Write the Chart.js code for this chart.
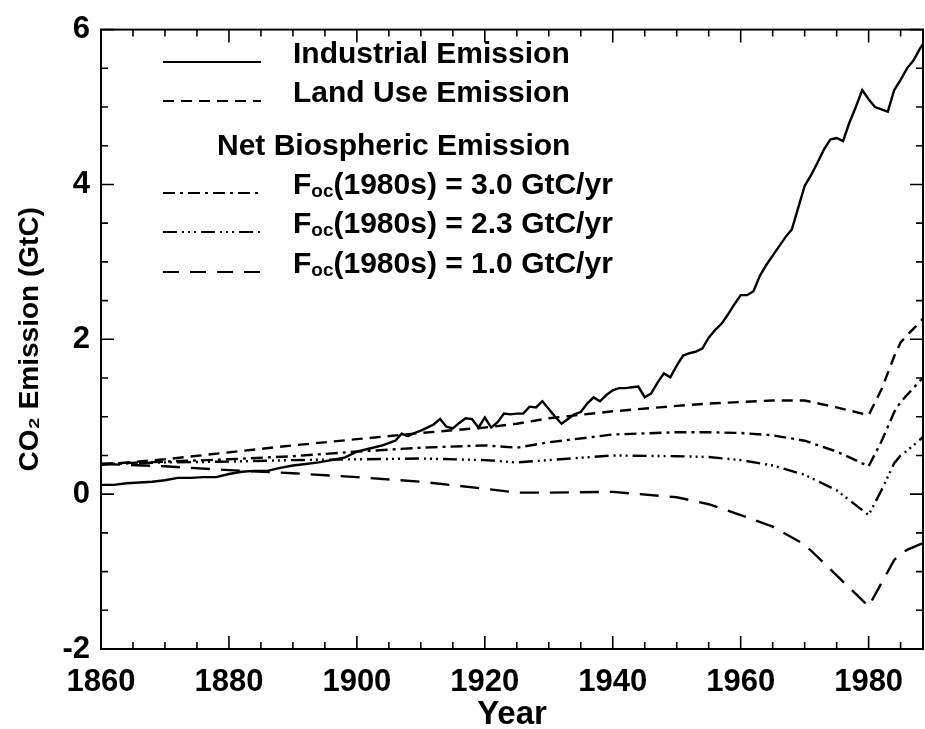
<!DOCTYPE html>
<html>
<head>
<meta charset="utf-8">
<script src="https://cdn.jsdelivr.net/npm/chart.js@4.4.1/dist/chart.umd.min.js"></script>
<style>
  html, body { margin: 0; padding: 0; background: #fff; }
</style>
</head>
<body>
<canvas id="co2" width="925" height="729"></canvas>
<script>
// industrial emission
const industrialYears = [1860, 1862, 1864, 1866, 1868, 1870, 1872, 1874, 1876, 1878,
  1880, 1882, 1884, 1886, 1888, 1890, 1892, 1894, 1896, 1898, 1900, 1902, 1904, 1906,
  1907, 1908, 1909, 1910, 1911, 1912, 1913, 1914, 1915, 1916, 1917, 1918, 1919, 1920,
  1921, 1922, 1923, 1924, 1925, 1926, 1927, 1928, 1929, 1930, 1931, 1932, 1933, 1934,
  1935, 1936, 1937, 1938, 1939, 1940, 1941, 1942, 1943, 1944, 1945, 1946, 1947, 1948,
  1949, 1950, 1951, 1952, 1953, 1954, 1955, 1956, 1957, 1958, 1959, 1960, 1961, 1962,
  1963, 1964, 1965, 1966, 1967, 1968, 1969, 1970, 1971, 1972, 1973, 1974, 1975, 1976,
  1977, 1978, 1979, 1980, 1981, 1982, 1983, 1984, 1985, 1986, 1987, 1988, 1989];
const industrial = [0.12, 0.12, 0.14, 0.15, 0.16, 0.18, 0.21, 0.21, 0.22, 0.22,
  0.26, 0.29, 0.30, 0.30, 0.34, 0.37, 0.39, 0.41, 0.44, 0.47, 0.55, 0.59, 0.63, 0.69,
  0.78, 0.75, 0.79, 0.82, 0.86, 0.90, 0.97, 0.87, 0.85, 0.92, 0.98, 0.97, 0.86, 0.99,
  0.86, 0.93, 1.04, 1.03, 1.04, 1.04, 1.13, 1.12, 1.20, 1.10, 1.00, 0.91, 0.97, 1.03,
  1.06, 1.17, 1.25, 1.20, 1.28, 1.34, 1.37, 1.37, 1.38, 1.39, 1.25, 1.30, 1.44, 1.56,
  1.51, 1.66, 1.79, 1.82, 1.84, 1.88, 2.02, 2.12, 2.20, 2.32, 2.45, 2.57, 2.57, 2.62,
  2.82, 2.96, 3.08, 3.20, 3.32, 3.42, 3.70, 3.98, 4.12, 4.28, 4.45, 4.58, 4.60, 4.56,
  4.80, 5.00, 5.22, 5.10, 5.00, 4.97, 4.94, 5.22, 5.35, 5.50, 5.60, 5.75, 5.88];

// land use and net biospheric curves share these years
const bioYears = [1860, 1870, 1880, 1890, 1900, 1910, 1920, 1925, 1930, 1940, 1950, 1955,
  1960, 1965, 1970, 1975, 1980, 1982, 1984, 1985, 1986, 1988, 1989];
const landUse = [0.38, 0.45, 0.54, 0.63, 0.71, 0.79, 0.86, 0.91, 0.98, 1.07, 1.14, 1.17,
  1.19, 1.21, 1.21, 1.12, 1.02, 1.35, 1.78, 1.96, 2.05, 2.22, 2.32];
const netBio30 = [0.39, 0.42, 0.45, 0.49, 0.55, 0.60, 0.63, 0.60, 0.67, 0.77, 0.80, 0.80,
  0.79, 0.76, 0.69, 0.55, 0.36, 0.68, 1.06, 1.19, 1.28, 1.46, 1.55];
const netBio23 = [0.39, 0.41, 0.42, 0.44, 0.45, 0.46, 0.44, 0.41, 0.44, 0.50, 0.49, 0.48,
  0.44, 0.37, 0.25, 0.05, -0.27, 0.05, 0.40, 0.50, 0.56, 0.70, 0.78];
const netBio10 = [0.39, 0.36, 0.31, 0.27, 0.22, 0.16, 0.07, 0.02, 0.02, 0.03, -0.04, -0.13,
  -0.27, -0.42, -0.65, -1.05, -1.45, -1.15, -0.85, -0.77, -0.72, -0.65, -0.62];

const yTickLabels = [-2, 0, 2, 4, 6];
const xTickLabels = [1860, 1880, 1900, 1920, 1940, 1960, 1980];

const FONT = "'Liberation Sans', Arial, Helvetica, sans-serif";

function pairs(xs, ys) {
  return xs.map((x, i) => ({ x: x, y: ys[i] }));
}

function lineSet(label, xs, ys, dash) {
  return {
    label: label,
    data: pairs(xs, ys),
    borderColor: '#000',
    borderWidth: 2.4,
    borderDash: dash,
    pointRadius: 0,
    tension: 0,
    fill: false
  };
}

// inward ticks on all four sides plus the box
const frameTicks = {
  id: 'frameTicks',
  afterDatasetsDraw(chart) {
    const { ctx, chartArea: a, scales: { x, y } } = chart;
    ctx.save();
    ctx.strokeStyle = '#000';
    ctx.lineWidth = 2;
    ctx.setLineDash([]);
    ctx.strokeRect(a.left, a.top, a.right - a.left, a.bottom - a.top);
    ctx.lineWidth = 1.6;
    ctx.beginPath();
    x.ticks.forEach(t => {
      if (t.value % 5 !== 0) return;
      const px = x.getPixelForValue(t.value);
      const len = xTickLabels.includes(t.value) ? 13 : 7;
      ctx.moveTo(px, a.bottom); ctx.lineTo(px, a.bottom - len);
      ctx.moveTo(px, a.top); ctx.lineTo(px, a.top + len);
    });
    y.ticks.forEach(t => {
      const py = y.getPixelForValue(t.value);
      const len = yTickLabels.includes(t.value) ? 13 : 7;
      ctx.moveTo(a.left, py); ctx.lineTo(a.left + len, py);
      ctx.moveTo(a.right, py); ctx.lineTo(a.right - len, py);
    });
    ctx.stroke();
    ctx.restore();
  }
};

// legend inside the plot, with a header line and subscripts
const boxLegend = {
  id: 'boxLegend',
  afterDraw(chart) {
    const ctx = chart.ctx;
    const sets = chart.data.datasets;
    const rows = [62, 101, 193, 232, 272];
    ctx.save();
    ctx.fillStyle = '#000';
    ctx.strokeStyle = '#000';
    ctx.textBaseline = 'alphabetic';
    ctx.textAlign = 'left';
    ctx.font = 'bold 30px ' + FONT;
    ctx.fillText('Net Biospheric Emission', 217, 155);
    sets.forEach((ds, i) => {
      const yy = rows[i];
      ctx.lineWidth = 2;
      ctx.setLineDash(ds.legendDash || ds.borderDash || []);
      ctx.beginPath();
      ctx.moveTo(163, yy);
      ctx.lineTo(261, yy);
      ctx.stroke();
      ctx.setLineDash([]);
      let xx = 293;
      const parts = ds.label.split(/_(\w+)/);
      parts.forEach((p, k) => {
        if (k % 2 === 1) {
          ctx.font = 'bold 19px ' + FONT;
          ctx.fillText(p, xx, yy + 4);
        } else {
          ctx.font = 'bold 30px ' + FONT;
          ctx.fillText(p, xx, yy + 1);
        }
        xx += ctx.measureText(p).width;
      });
    });
    ctx.restore();
  }
};

const sets = [
  lineSet('Industrial Emission', industrialYears, industrial, []),
  lineSet('Land Use Emission', bioYears, landUse, [11, 7]),
  lineSet('F_oc(1980s) = 3.0 GtC/yr', bioYears, netBio30, [12, 5, 3, 5]),
  lineSet('F_oc(1980s) = 2.3 GtC/yr', bioYears, netBio23, [14, 5, 2, 4, 2, 4, 2, 5]),
  lineSet('F_oc(1980s) = 1.0 GtC/yr', bioYears, netBio10, [19, 11])
];
sets[4].legendDash = [16, 11];

new Chart(document.getElementById('co2'), {
  type: 'line',
  data: { datasets: sets },
  options: {
    responsive: false,
    animation: false,
    layout: { padding: { top: 24, right: 2, left: 0, bottom: 0 } },
    plugins: {
      legend: { display: false },
      tooltip: { enabled: false }
    },
    scales: {
      x: {
        type: 'linear',
        min: 1860,
        max: 1988.5,
        border: { display: false },
        grid: { display: false, drawTicks: false },
        ticks: {
          stepSize: 5,
          autoSkip: false,
          maxRotation: 0,
          includeBounds: false,
          padding: 15,
          color: '#000',
          font: { family: FONT, size: 31, weight: 'bold' },
          callback: v => (xTickLabels.includes(v) ? String(v) : '')
        },
        title: {
          display: true,
          text: 'Year',
          color: '#000',
          padding: 0,
          font: { family: FONT, size: 33, weight: 'bold', lineHeight: 0.85 }
        },
        afterFit: s => { s.height = 80; }
      },
      y: {
        min: -2,
        max: 6,
        border: { display: false },
        grid: { display: false, drawTicks: false },
        ticks: {
          stepSize: 0.5,
          autoSkip: false,
          padding: 11,
          color: '#000',
          font: { family: FONT, size: 31, weight: 'bold' },
          callback: v => (yTickLabels.includes(v) ? String(v) : '')
        },
        title: {
          display: true,
          text: 'CO₂ Emission (GtC)',
          color: '#000',
          padding: { top: 13, bottom: 0 },
          font: { family: FONT, size: 28, weight: 'bold', lineHeight: 1.2 }
        },
        afterFit: s => { s.width = 101; }
      }
    }
  },
  plugins: [frameTicks, boxLegend]
});
</script>
</body>
</html>
